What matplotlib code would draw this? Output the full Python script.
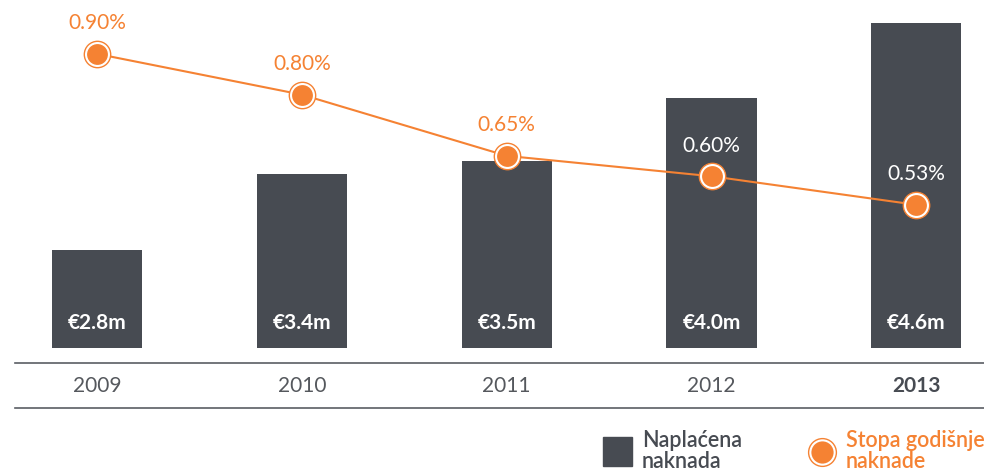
import matplotlib
matplotlib.use("Agg")
import matplotlib.pyplot as plt
from matplotlib.lines import Line2D
from matplotlib.patches import Rectangle

plt.rcParams['font.family'] = ['Lato', 'DejaVu Sans']

years = ['2009', '2010', '2011', '2012', '2013']
fees = [2.8, 3.4, 3.5, 4.0, 4.6]          # € millions
fee_labels = ['€2.8m', '€3.4m', '€3.5m', '€4.0m', '€4.6m']
rates = [0.90, 0.80, 0.65, 0.60, 0.53]     # %
rate_labels = ['0.90%', '0.80%', '0.65%', '0.60%', '0.53%']

BAR = '#474b52'
ORANGE = '#f58233'
W, H = 984, 475

fig = plt.figure(figsize=(W / 100, H / 100), dpi=100)


def box(x0, y0, x1, y1):
    # pixel box (top-left origin) -> figure fraction
    return [x0 / W, 1 - y1 / H, (x1 - x0) / W, (y1 - y0) / H]


x = list(range(len(years)))
xlim = (-0.4, 4.33)

ax = fig.add_axes(box(15, 0, 984, 348))
ax.bar(x, fees, width=0.44, color=BAR, zorder=1)
ax.set_xlim(*xlim)
ax.set_ylim(2.02, 4.78)
ax.axis('off')
for xi, lab in zip(x, fee_labels):
    ax.annotate(lab, (xi, 2.02), xytext=(0, 18), textcoords='offset points',
                ha='center', va='center', color='white', fontsize=15,
                fontweight='bold')

ax2 = ax.twinx()
ax2.set_ylim(0.179, 1.032)
ax2.set_xlim(*xlim)
ax2.axis('off')
ax2.plot(x, rates, color=ORANGE, lw=1.5, zorder=2)
ax2.plot(x, rates, 'o', ms=19, mfc='white', mec=ORANGE, mew=1.0, zorder=3)
ax2.plot(x, rates, 'o', ms=15, mfc=ORANGE, mec=ORANGE, mew=0, zorder=4)
for i, (xi, r, lab) in enumerate(zip(x, rates, rate_labels)):
    col = 'white' if i >= 3 else ORANGE
    ax2.annotate(lab, (xi, r), xytext=(0, 22), textcoords='offset points',
                 ha='center', va='center', color=col, fontsize=15)

# year band
axy = fig.add_axes(box(15, 363, 984, 408))
axy.set_xlim(*xlim)
axy.set_ylim(0, 1)
axy.set_xticks([])
axy.set_yticks([])
for s in ['left', 'right']:
    axy.spines[s].set_visible(False)
for s in ['top', 'bottom']:
    axy.spines[s].set_color('#5a5e64')
    axy.spines[s].set_linewidth(1.2)
axy.patch.set_alpha(0)
for xi, y in zip(x, years):
    axy.text(xi, 0.5, y, ha='center', va='center', fontsize=15,
             color='#474b52' if y == '2013' else '#55585d',
             fontweight='bold' if y == '2013' else 'normal')

# legend
fig.patches.append(Rectangle((603 / W, 1 - 466 / H), 29 / W, 29 / H,
                             transform=fig.transFigure, color=BAR))
fig.text(642 / W, 1 - 451 / H, 'Naplaćena\nnaknada', ha='left', va='center',
         fontsize=15.5, color=BAR, linespacing=1.05, fontweight='semibold')
fig.add_artist(Line2D([822 / W], [1 - 452 / H], marker='o', ms=20, mfc='white',
                      mec=ORANGE, mew=1.0, transform=fig.transFigure))
fig.add_artist(Line2D([822 / W], [1 - 452 / H], marker='o', ms=16, mfc=ORANGE,
                      mew=0, transform=fig.transFigure))
fig.text(846 / W, 1 - 451 / H, 'Stopa godišnje\nnaknade', ha='left', va='center',
         fontsize=15.5, color=ORANGE, linespacing=1.05, fontweight='semibold')

fig.savefig('out.png', dpi=100)
